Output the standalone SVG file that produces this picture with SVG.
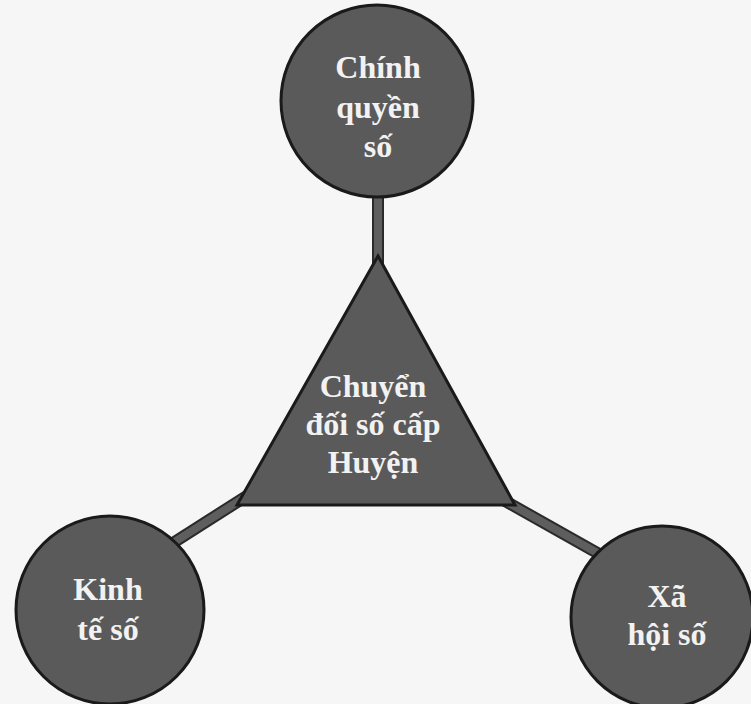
<svg xmlns="http://www.w3.org/2000/svg" width="751" height="704" viewBox="0 0 751 704">
<style>
.shape{fill:#5a5a5a;stroke:#1a1a1a;stroke-width:3}
.edge{stroke:#2a2a2a;stroke-width:12;fill:none}
.core{stroke:#5e5e5e;stroke-width:8;fill:none}
.lbl{font-family:"Liberation Serif","Times New Roman",serif;font-weight:bold;font-size:32px;fill:#f2f2f2;text-anchor:middle}
</style>
<rect width="751" height="704" fill="#f6f6f6"/>
<g id="connectors">
<line class="edge" x1="378" y1="180" x2="378" y2="270"/>
<line class="core" x1="378" y1="180" x2="378" y2="270"/>
<line class="edge" x1="300" y1="462" x2="140" y2="564"/>
<line class="core" x1="300" y1="462" x2="140" y2="564"/>
<line class="edge" x1="450" y1="470" x2="640" y2="577"/>
<line class="core" x1="450" y1="470" x2="640" y2="577"/>
</g>
<g id="chinh-quyen-so">
<circle class="shape" cx="377" cy="101" r="96"/>
<text class="lbl" x="378" y="78">Chính</text>
<text class="lbl" x="378" y="118">quyền</text>
<text class="lbl" x="378" y="157">số</text>
</g>
<g id="chuyen-doi-so">
<polygon class="shape" points="378,256 237,505 515,505" stroke-linejoin="miter"/>
<text class="lbl" x="373" y="397">Chuyển</text>
<text class="lbl" x="373" y="435">đối số cấp</text>
<text class="lbl" x="373" y="473">Huyện</text>
</g>
<g id="kinh-te-so">
<circle class="shape" cx="110" cy="610" r="94"/>
<text class="lbl" x="108" y="600">Kinh</text>
<text class="lbl" x="108" y="640">tế số</text>
</g>
<g id="xa-hoi-so">
<circle class="shape" cx="662" cy="617" r="91"/>
<text class="lbl" x="667" y="607">Xã</text>
<text class="lbl" x="667" y="645">hội số</text>
</g>
</svg>
